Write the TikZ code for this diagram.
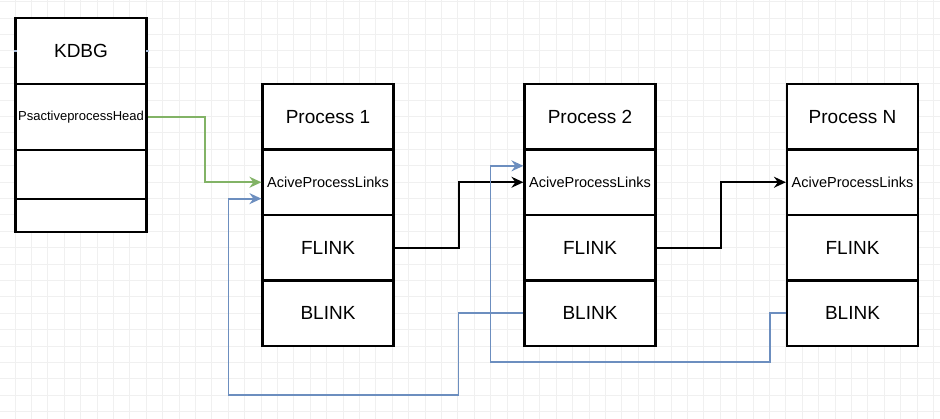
\documentclass[tikz,border=0pt]{standalone}
\usepackage{fontspec}
\setmainfont{Liberation Sans}
\usetikzlibrary{arrows.meta,calc}
\definecolor{gridc}{HTML}{F0F0F0}
\definecolor{dgreen}{HTML}{82B366}
\definecolor{dblue}{HTML}{6C8EBF}
\begin{document}
\begin{tikzpicture}[x=1pt,y=-1pt,
  cell/.style={draw=black,line width=2.2pt,fill=white,rectangle,inner sep=0pt,minimum width=131pt,font=\fontsize{19}{22}\selectfont},
  row/.style={cell,minimum height=65.5pt},
  small/.style={font=\fontsize{14.5}{17}\selectfont},
  conn/.style={line width=1.8pt,-{Stealth[length=12pt,width=11pt,inset=4pt]}},
  plain/.style={line width=1.8pt}]
\useasboundingbox (0,0) rectangle (940,419);
\fill[white] (0,0) rectangle (940,419);
\foreach \i in {0,...,57} \draw[gridc,line width=0.7pt] ({-1.4+16.4*\i},0) -- ++(0,419);
\foreach \j in {0,...,25} \draw[gridc,line width=0.7pt] (0,{1.6+16.4*\j}) -- ++(940,0);
% KDBG
\node[cell,minimum height=66pt] (k1) at (81,51) {KDBG};
\node[cell,minimum height=66pt,font=\fontsize{13}{15}\selectfont] (k2) at (81,117) {PsactiveprocessHead};
\node[cell,minimum height=49pt] (k3) at (81,174.5) {};
\node[cell,minimum height=33pt] (k4) at (81,215.5) {};
\fill[dblue!60] (13.5,50) rectangle (16.5,52);
\fill[dblue!60] (145.5,50) rectangle (148.5,52);
% Process 1
\node[row] (p1t) at (328,116.75) {Process 1};
\node[row,small] (p1l) at (328,182.25) {AciveProcessLinks};
\node[row] (p1f) at (328,247.75) {FLINK};
\node[row] (p1b) at (328,313.25) {BLINK};
% Process 2
\node[row] (p2t) at (590,116.75) {Process 2};
\node[row,small] (p2l) at (590,182.25) {AciveProcessLinks};
\node[row] (p2f) at (590,247.75) {FLINK};
\node[row] (p2b) at (590,313.25) {BLINK};
% Process N
\node[row] (pNt) at (852.5,116.75) {Process N};
\node[row,small] (pNl) at (852.5,182.25) {AciveProcessLinks};
\node[row] (pNf) at (852.5,247.75) {FLINK};
\node[row] (pNb) at (852.5,313.25) {BLINK};
% connectors
\draw[conn,dgreen] (k2.east) -- ++(57,0) |- (p1l.west);
\draw[conn,black] (p1f.east) -- ++(64,0) |- (p2l.west);
\draw[conn,black] (p2f.east) -- ++(64,0) |- (pNl.west);
\draw[conn,dblue] (p2b.west) -- ++(-65,0) -- ++(0,82) -| ([xshift=-33pt,yshift=-16.4pt]p1l.west) -- ([yshift=-16.4pt]p1l.west);
\draw[conn,dblue] (pNb.west) -- ++(-16,0) -- ++(0,49) -| ([xshift=-33pt,yshift=16.4pt]p2l.west) -- ([yshift=16.4pt]p2l.west);
\end{tikzpicture}
\end{document}
